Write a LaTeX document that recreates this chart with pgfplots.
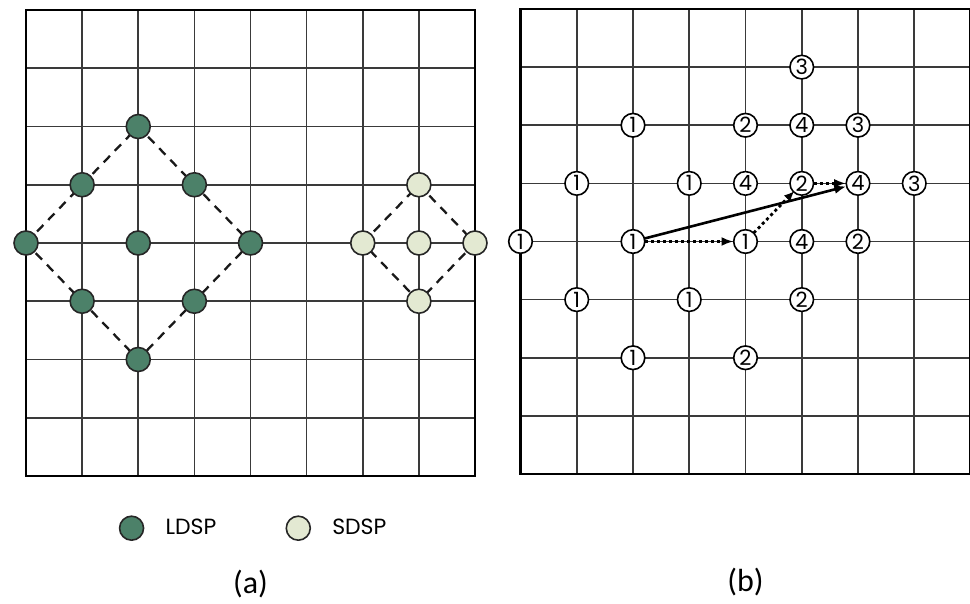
\documentclass[border=0pt]{standalone}
\usepackage{fontspec}
\setmainfont{Carlito}
\newfontfamily\gothic{Poppins}
\usepackage{pgfplots}
\pgfplotsset{compat=1.18}
\usetikzlibrary{arrows.meta}
\definecolor{ldsp}{HTML}{4C8169}
\definecolor{sdsp}{HTML}{E3E9D2}
\definecolor{gridc}{HTML}{3A3A3A}
\pgfplotsset{
  panel/.style={
    scale only axis, xmin=0, xmax=8, ymin=0, ymax=8,
    xtick={0,...,8}, ytick={0,...,8},
    xticklabels={}, yticklabels={},
    major tick length=0pt,
    grid=major, grid style={gridc, line width=0.8pt},
    axis line style={black, line width=1.4pt},
    clip=false,
    xlabel style={font=\fontsize{16}{18}\selectfont, at={(axis description cs:0.5,-0.232)}, anchor=center},
  }
}
\begin{document}
\begin{tikzpicture}
\path[use as bounding box] (0,0) rectangle (485pt,302pt);
% ---------------- (a)
\begin{axis}[panel, at={(13pt,64pt)}, anchor=south west, width=224.5pt, height=233pt,
  xlabel={(a)},
  legend columns=2,
  legend style={draw=none, fill=none, at={(axis description cs:0.51,-0.112)}, anchor=center,
     font=\gothic\fontsize{11}{12}\selectfont,
     /tikz/every odd column/.append style={column sep=9pt},
     /tikz/every even column/.append style={column sep=33pt}},
  legend image code/.code={\draw[#1] plot coordinates {(0pt,0pt)};},
]
\addplot[forget plot, black!90, line width=1.15pt, dash pattern=on 4.5pt off 3.5pt] coordinates {(0,4) (2,6) (4,4) (2,2) (0,4)};
\addplot[forget plot, black!90, line width=1.15pt, dash pattern=on 4.5pt off 3.5pt] coordinates {(6,4) (7,5) (8,4) (7,3) (6,4)};
\addplot[only marks, mark=*, mark size=6pt, mark options={fill=ldsp, draw=black!85, line width=0.8pt}]
  coordinates {(2,6) (1,5) (3,5) (0,4) (2,4) (4,4) (1,3) (3,3) (2,2)};
\addlegendentry{LDSP}
\addplot[only marks, mark=*, mark size=6pt, mark options={fill=sdsp, draw=black!85, line width=0.8pt}]
  coordinates {(7,5) (6,4) (7,4) (8,4) (7,3)};
\addlegendentry{SDSP}
\end{axis}
% ---------------- (b)
\begin{axis}[panel, at={(260.25pt,65pt)}, anchor=south west, width=225pt, height=232.5pt,
  xlabel={(b)}]
\addplot[only marks, mark=*, mark size=5.9pt, mark options={fill=white, draw=black, line width=0.8pt},
  point meta=explicit symbolic, nodes near coords,
  every node near coord/.append style={anchor=center, inner sep=0pt, font=\gothic\fontsize{10.5}{11}\selectfont}]
  table[meta=label] {
x y label
5 7 3
2 6 1
4 6 2
5 6 4
6 6 3
1 5 1
3 5 1
4 5 4
5 5 2
6 5 4
7 5 3
0 4 1
2 4 1
4 4 1
5 4 4
6 4 2
1 3 1
3 3 1
5 3 2
2 2 1
4 2 2
};
\addplot[no marks, black, line width=1.3pt, -{Latex[length=6pt,width=4.5pt]}, shorten <=5.5pt, shorten >=6pt]
  coordinates {(2,4) (6,5)};
\addplot[no marks, black, line width=1.4pt, dash pattern=on 1.5pt off 1.5pt, -{Latex[length=6pt,width=4.5pt]}, shorten <=6pt, shorten >=6pt]
  coordinates {(2,4) (4,4)};
\addplot[no marks, black, line width=1.4pt, dash pattern=on 1.5pt off 1.5pt, -{Latex[length=5pt,width=4.5pt]}, shorten <=6pt, shorten >=5.5pt]
  coordinates {(4,4) (5,5)};
\addplot[no marks, black, line width=1.4pt, dash pattern=on 1.5pt off 1.5pt, -{Latex[length=6pt,width=4.5pt]}, shorten <=6pt, shorten >=6pt]
  coordinates {(5,5) (6,5)};
\end{axis}
\end{tikzpicture}
\end{document}
